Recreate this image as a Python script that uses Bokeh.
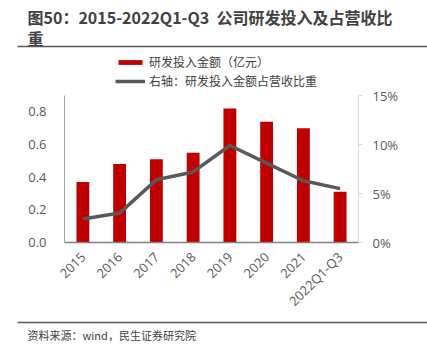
import math
from bokeh.plotting import figure
from bokeh.models import (Range1d, LinearAxis, FixedTicker, Label, BoxAnnotation,
                          Legend, LegendItem, PrintfTickFormatter, NumeralTickFormatter)
from bokeh.embed import file_html
from bokeh.resources import INLINE

categories = ["2015", "2016", "2017", "2018", "2019", "2020", "2021", "2022Q1-Q3"]
rd_amount = [0.37, 0.48, 0.51, 0.55, 0.82, 0.74, 0.70, 0.31]
rd_ratio_pct = [2.4, 3.0, 6.4, 7.2, 9.9, 8.1, 6.3, 5.5]
left_ticks = [0, 0.2, 0.4, 0.6, 0.8]
right_ticks = [0, 5, 10, 15]
left_max, right_max = 0.9, 15

title_line1 = "图50：2015-2022Q1-Q3\u00a0\u00a0公司研发投入及占营收比"
title_line2 = "重"
source_text = "资料来源：wind，民生证券研究院"
legend_bar = "研发投入金额（亿元）"
legend_line = "右轴：研发投入金额占营收比重"

W, H = 427, 354
PL, PR, PT, PB = 64, 358, 95, 242   # plot area (axis box) in canvas pixels

n = len(categories)
xs = list(range(n))
cat_px = (PR - PL) / n
x_start = -0.5 - PL / cat_px
x_end = (n - 0.5) + (W - PR) / cat_px
lpx = (PB - PT) / left_max
rpx = (PB - PT) / right_max

CJK = "Noto Sans CJK SC"
NUM = "Open Sans"
TXT = "#404040"
TICK = "#595959"

p = figure(width=W, height=H, x_range=Range1d(x_start, x_end),
           y_range=Range1d(-(H - PB) / lpx, left_max + PT / lpx),
           x_axis_type=None, y_axis_type=None,
           output_backend="svg", toolbar_location=None, min_border=0)
p.outline_line_color = None
p.xgrid.grid_line_color = None
p.ygrid.grid_line_color = None
p.extra_y_ranges = {"pct": Range1d(-(H - PB) / rpx, right_max + PT / rpx)}

bars = p.vbar(x=xs, top=rd_amount, width=0.35, color="#C00000", line_color=None)
line = p.line(x=xs, y=rd_ratio_pct, y_range_name="pct", line_color="#595959", line_width=3.5)

# left axis
ya = LinearAxis(ticker=FixedTicker(ticks=left_ticks), formatter=NumeralTickFormatter(format="0.0"),
                bounds=(0, left_max), fixed_location=-0.5)
ya.axis_line_color = "#A6A6A6"
ya.major_tick_line_color = None
ya.minor_tick_line_color = None
ya.major_label_text_font = NUM
ya.major_label_text_font_size = "13px"
ya.major_label_text_color = TICK
ya.major_label_standoff = 12
p.add_layout(ya, "left")

# right axis
ra = LinearAxis(y_range_name="pct", ticker=FixedTicker(ticks=right_ticks),
                formatter=PrintfTickFormatter(format="%d%%"), bounds=(0, right_max),
                fixed_location=n - 0.5)
ra.axis_line_color = "#D9D9D9"
ra.major_tick_line_color = "#D9D9D9"
ra.major_tick_in = 0
ra.major_tick_out = 4
ra.minor_tick_line_color = None
ra.major_label_text_font = NUM
ra.major_label_text_font_size = "13px"
ra.major_label_text_color = TICK
ra.major_label_standoff = 10
p.add_layout(ra, "right")

# bottom axis
xa = LinearAxis(ticker=FixedTicker(ticks=xs), bounds=(-0.5, n - 0.5), fixed_location=0,
                major_label_overrides={i: c for i, c in enumerate(categories)})
xa.axis_line_color = "#808080"
xa.axis_line_width = 1.5
xa.major_tick_line_color = None
xa.minor_tick_line_color = None
xa.major_label_orientation = math.pi / 4
xa.major_label_text_font = NUM
xa.major_label_text_font_size = "13px"
xa.major_label_text_color = TICK
xa.major_label_standoff = 6
p.add_layout(xa, "below")

legend = Legend(items=[LegendItem(label=legend_bar, renderers=[bars]),
                       LegendItem(label=legend_line, renderers=[line])],
                location=(115, H - 89), orientation="vertical",
                glyph_width=30, glyph_height=6, label_height=16, spacing=2,
                label_standoff=4, padding=0, margin=0,
                border_line_color=None, background_fill_alpha=0,
                label_text_font=CJK, label_text_font_size="12px", label_text_color=TXT)
p.add_layout(legend, "center")


def lab(text, x, y, size, bold=False, color=TXT, font=CJK):
    p.add_layout(Label(x=x, y=H - y, x_units="screen", y_units="screen", text=text,
                       text_font=font, text_font_size=size, text_color=color,
                       text_font_style="bold" if bold else "normal",
                       text_align="left", text_baseline="middle"))


def hline(y, x0, x1, color="#595959", th=1.5):
    p.add_layout(BoxAnnotation(left=x0, right=x1, top=H - y + th / 2, bottom=H - y - th / 2,
                               left_units="screen", right_units="screen",
                               top_units="screen", bottom_units="screen",
                               fill_color=color, fill_alpha=1, line_color=None))


lab(title_line1, 27, 16, "16px", bold=True)
lab(title_line2, 27, 37, "16px", bold=True)
hline(46, 17, W)
hline(322, 17, W)
lab(source_text, 27, 334, "11px")

open("out.html", "w").write(file_html(p, INLINE))
